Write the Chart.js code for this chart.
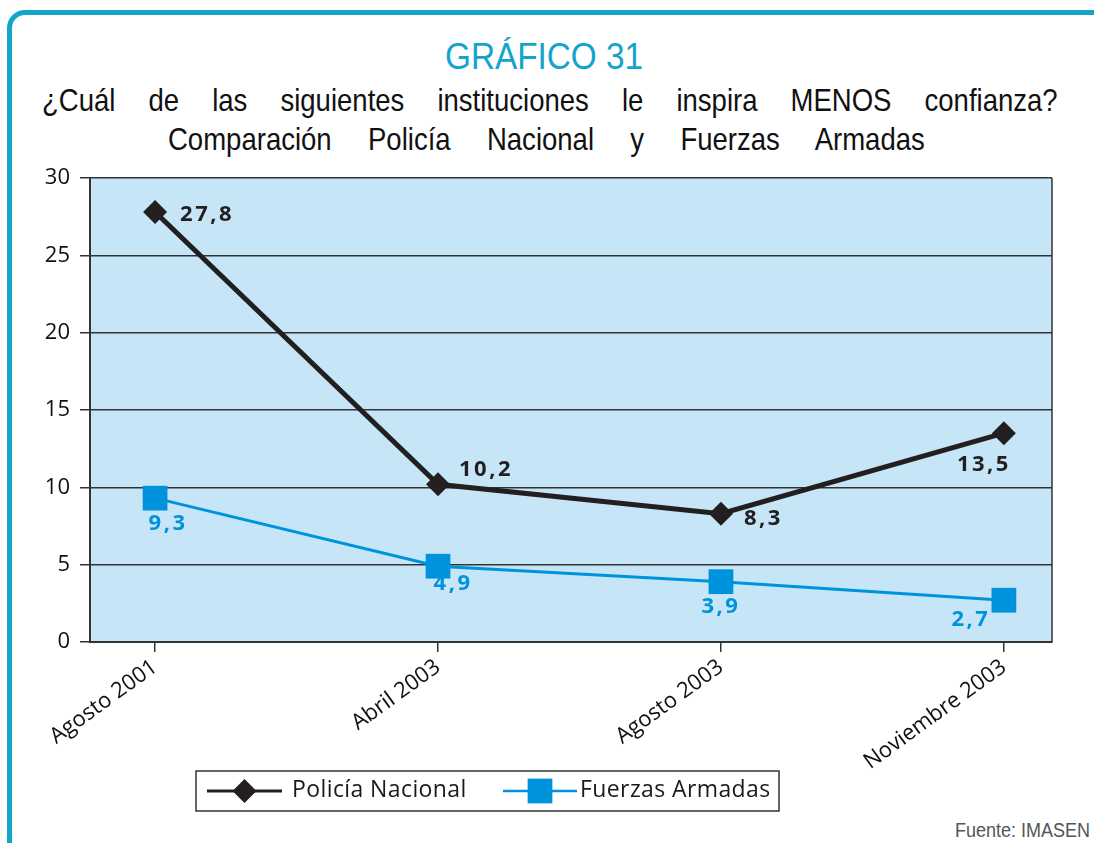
<!DOCTYPE html>
<html>
<head>
<meta charset="utf-8">
<script src="https://cdn.jsdelivr.net/npm/chart.js@4.4.0/dist/chart.umd.min.js"></script>
<style>
  html, body { margin: 0; padding: 0; background: #fff; }
  body { width: 1094px; height: 843px; position: relative; overflow: hidden; }
  #marco {
    position: absolute; left: 7px; top: 10px; width: 1110px; height: 860px;
    border: 5px solid #13a5ca; border-radius: 18px; box-sizing: border-box;
  }
  .narrow { font-family: 'Liberation Sans', Arial, sans-serif; position: absolute; white-space: nowrap; transform-origin: 0 0; }
  #titulo { left: 445px; top: 37px; font-size: 37px; line-height: 40px; color: #13a3cc; transform: scaleX(0.9); }
  .sub { font-size: 32px; line-height: 36px; color: #111; text-align: justify; text-align-last: justify; white-space: normal; transform: scaleX(0.86); }
  #sub1 { left: 42px; width: 1181px; top: 82px; }
  #sub2 { left: 168px; width: 880px; top: 121px; }
  #fuente { left: 955px; top: 819px; font-size: 20px; color: #555; transform: scaleX(0.9); }
  #grafico { position: absolute; left: 0; top: 0; }
</style>
</head>
<body>
<div id="marco"></div>
<div id="titulo" class="narrow">GRÁFICO 31</div>
<div id="sub1" class="narrow sub">¿Cuál de las siguientes instituciones le inspira MENOS confianza?</div>
<div id="sub2" class="narrow sub">Comparación Policía Nacional y Fuerzas Armadas</div>
<div id="fuente" class="narrow">Fuente: IMASEN</div>
<canvas id="grafico" width="1094" height="843"></canvas>
<script>
const categorias = ["Agosto 2001", "Abril 2003", "Agosto 2003", "Noviembre 2003"];
const policia = [27.8, 10.2, 8.3, 13.5];
const fuerzas = [9.3, 4.9, 3.9, 2.7];
const yTicks = [0, 5, 10, 15, 20, 25, 30];

const NEGRO = "#231f20";
const AZUL = "#0093dd";
const FUENTE = "'Open Sans', 'DejaVu Sans', sans-serif";

// desplazamientos de las etiquetas de valor [dx, dy, align]
const offPolicia = [[25, 3, "left"], [21, -15, "left"], [23, 5, "left"], [7, 32, "right"]];
const offFuerzas = [[13, 26, "center"], [15, 18, "center"], [0, 25, "center"], [-33, 19, "center"]];

const fmt = v => String(v).replace(".", ",");

const fondo = {
  id: "fondo",
  beforeDraw(chart) {
    const { ctx, chartArea: a } = chart;
    ctx.save();
    ctx.fillStyle = "#c6e6f8";
    ctx.fillRect(a.left, a.top, a.right - a.left, a.bottom - a.top);
    ctx.restore();
  },
  beforeDatasetsDraw(chart) {
    const { ctx, chartArea: a } = chart;
    ctx.save();
    ctx.strokeStyle = "#333";
    ctx.lineWidth = 1.5;
    ctx.beginPath();
    ctx.moveTo(a.right, a.top);
    ctx.lineTo(a.right, a.bottom);
    ctx.stroke();
    ctx.restore();
  }
};

const etiquetas = {
  id: "etiquetas",
  afterDatasetsDraw(chart) {
    const { ctx } = chart;
    const offs = [offPolicia, offFuerzas];
    ctx.save();
    ctx.font = "bold 22px " + FUENTE;
    ctx.letterSpacing = "2.5px";
    ctx.textBaseline = "middle";
    chart.data.datasets.forEach((ds, i) => {
      const meta = chart.getDatasetMeta(i);
      ctx.fillStyle = ds.borderColor;
      meta.data.forEach((pt, j) => {
        const [dx, dy, al] = offs[i][j];
        ctx.textAlign = al;
        ctx.fillText(fmt(ds.data[j].y), pt.x + dx, pt.y + dy);
      });
    });
    ctx.restore();
  }
};

const leyenda = {
  id: "leyenda",
  afterDraw(chart) {
    const { ctx } = chart;
    ctx.save();
    ctx.strokeStyle = "#333";
    ctx.lineWidth = 1.5;
    ctx.strokeRect(196, 771, 583, 40);
    const items = [
      { x1: 207, x2: 282, texto: 292 },
      { x1: 503, x2: 577, texto: 580 }
    ];
    chart.data.datasets.forEach((ds, i) => {
      const it = items[i];
      const y = 791;
      ctx.strokeStyle = ds.borderColor;
      ctx.lineWidth = i === 0 ? 3 : 2.5;
      ctx.beginPath();
      ctx.moveTo(it.x1, y);
      ctx.lineTo(it.x2, y);
      ctx.stroke();
      ctx.fillStyle = ds.pointBackgroundColor;
      Chart.helpers.drawPoint(ctx, {
        pointStyle: ds.pointStyle, radius: ds.pointRadius, rotation: 0, borderWidth: 0
      }, (it.x1 + it.x2) / 2, y);
      ctx.fillStyle = "#1a1a1a";
      ctx.font = "23px " + FUENTE;
      ctx.letterSpacing = "0.4px";
      ctx.textAlign = "left";
      ctx.textBaseline = "middle";
      ctx.fillText(ds.label, it.texto, y - 1);
    });
    ctx.restore();
  }
};

new Chart(document.getElementById("grafico"), {
  type: "line",
  data: {
    datasets: [
      {
        label: "Policía Nacional",
        data: policia.map((v, i) => ({ x: i, y: v })),
        borderColor: NEGRO,
        borderWidth: 5,
        pointStyle: "rectRot",
        pointRadius: 12,
        pointBackgroundColor: NEGRO,
        pointBorderColor: NEGRO,
        pointBorderWidth: 0,
        tension: 0
      },
      {
        label: "Fuerzas Armadas",
        data: fuerzas.map((v, i) => ({ x: i, y: v })),
        borderColor: AZUL,
        borderWidth: 3,
        pointStyle: "rect",
        pointRadius: 17.5,
        pointBackgroundColor: AZUL,
        pointBorderColor: AZUL,
        pointBorderWidth: 0,
        tension: 0
      }
    ]
  },
  options: {
    responsive: false,
    animation: false,
    layout: { padding: { top: 178, right: 42, bottom: 0, left: 0 } },
    plugins: { legend: { display: false }, tooltip: { enabled: false } },
    scales: {
      x: {
        type: "linear",
        min: -0.23,
        max: 3.17,
        afterBuildTicks: s => { s.ticks = categorias.map((c, i) => ({ value: i })); },
        afterFit: s => { s.height = 201; },
        grid: { drawOnChartArea: false, drawTicks: true, tickLength: 10, color: "#333", lineWidth: 1.5 },
        border: { display: true, color: "#333", width: 2 },
        ticks: {
          callback: v => categorias[v],
          minRotation: 36,
          maxRotation: 36,
          padding: 2,
          color: "#111",
          font: { family: FUENTE, size: 22 }
        }
      },
      y: {
        min: 0,
        max: 30,
        afterBuildTicks: s => { s.ticks = yTicks.map(v => ({ value: v })); },
        afterFit: s => { s.width = 90; },
        grid: { color: "#333", lineWidth: 1.5, tickLength: 10 },
        border: { display: true, color: "#333", width: 2 },
        ticks: {
          padding: 10,
          color: "#111",
          font: { family: FUENTE, size: 22 }
        }
      }
    }
  },
  plugins: [fondo, etiquetas, leyenda]
});
</script>
</body>
</html>
